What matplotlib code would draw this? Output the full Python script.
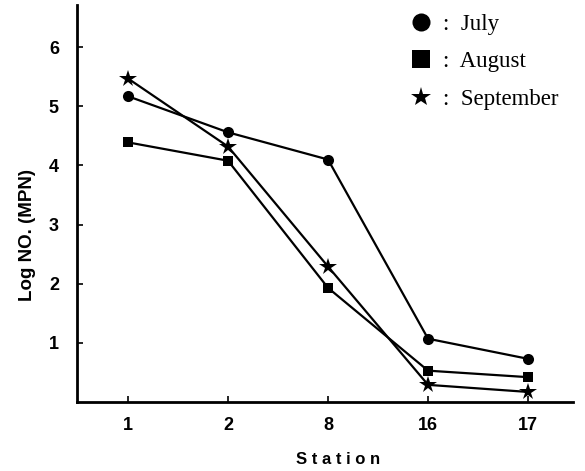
import matplotlib
matplotlib.use("Agg")
import matplotlib.pyplot as plt
from matplotlib import rcParams
from matplotlib.lines import Line2D

rcParams['font.family'] = 'sans-serif'
rcParams['font.sans-serif'] = ['Liberation Sans', 'DejaVu Sans']

# data
stations = ['1', '2', '8', '16', '17']
july = [5.17, 4.56, 4.10, 1.07, 0.73]
august = [4.39, 4.08, 1.93, 0.53, 0.42]
september = [5.47, 4.32, 2.29, 0.29, 0.17]
months = ['July', 'August', 'September']
markers = ['o', 's', '*']
msizes = [8, 7.5, 13]
legend_msizes = [13, 12.5, 15]

fig = plt.figure(figsize=(5.85, 4.71), dpi=100)
ax = fig.add_axes([0.1316, 0.1465, 0.848, 0.8425])

x = list(range(len(stations)))
for vals, m, ms, lab in zip([july, august, september], markers, msizes, months):
    ax.plot(x, vals, color='black', lw=1.6, marker=m, markersize=ms,
            markeredgewidth=0, label=lab)

ax.set_xlim(-0.51, 4.45)
ax.set_ylim(0, 6.71)
ax.set_xticks(x)
ax.set_xticklabels(stations)
ax.set_yticks([1, 2, 3, 4, 5, 6])

for s in ['top', 'right']:
    ax.spines[s].set_visible(False)
for s in ['left', 'bottom']:
    ax.spines[s].set_linewidth(2)

ax.tick_params(direction='in', length=4, width=1.2, labelsize=13)
ax.tick_params(axis='x', pad=11)
ax.tick_params(axis='y', pad=13)
for t in ax.get_xticklabels() + ax.get_yticklabels():
    t.set_fontweight('bold')

ax.set_xlabel('S t a t i o n', fontsize=12, fontweight='bold')
ax.xaxis.set_label_coords(0.526, -0.127)
ax.set_ylabel('Log NO. (MPN)', fontsize=13.5, fontweight='bold')
ax.yaxis.set_label_coords(-0.083, 0.42)

handles = [Line2D([], [], color='black', linestyle='none', marker=m,
                  markersize=s, markeredgewidth=0)
           for m, s in zip(markers, legend_msizes)]
leg = ax.legend(handles, [':  ' + lab for lab in months],
                loc='upper right', bbox_to_anchor=(1.012, 1.03), frameon=False,
                handlelength=1.0, handletextpad=0.45, labelspacing=0.72,
                prop={'family': 'Liberation Serif', 'size': 16.5})

fig.savefig('out.png', dpi=100)
